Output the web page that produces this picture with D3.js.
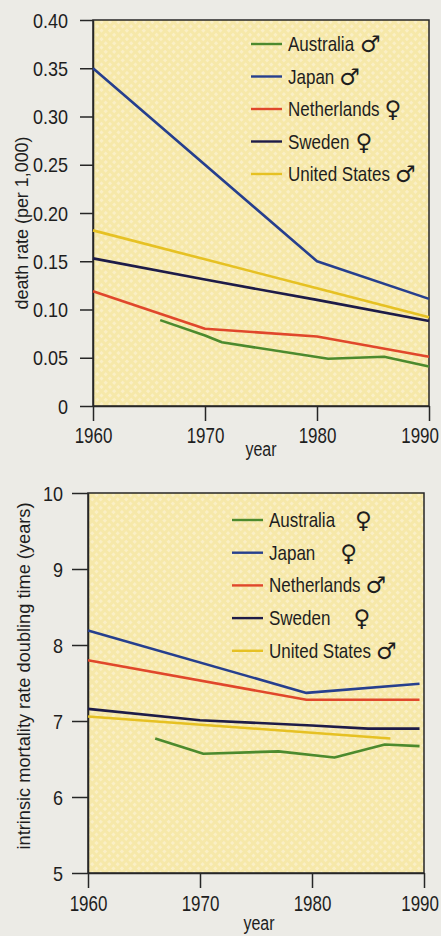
<!DOCTYPE html>
<html>
<head>
<meta charset="utf-8">
<style>
  body { margin: 0; background: #ecebe6; }
  svg text { font-family: "Liberation Sans", Arial, sans-serif; fill: #1e1e1e; }
  .sym { font-family: "DejaVu Sans", sans-serif; }
</style>
</head>
<body>
<script src="https://cdn.jsdelivr.net/npm/d3@7"></script>
<div id="container1"></div>
<script>

// ---- data ----
const countries = ["Australia", "Japan", "Netherlands", "Sweden", "United States"];
const colors = ["#4c8a2e", "#263f8e", "#e0472b", "#1d1b48", "#e6c123"];

// top panel: death rate (per 1,000)
const deathAustralia = [[1966, 0.089], [1970, 0.073], [1971.5, 0.066], [1981, 0.049], [1986, 0.051], [1990, 0.041]];
const deathJapan = [[1960, 0.350], [1980, 0.150], [1990, 0.111]];
const deathNetherlands = [[1960, 0.119], [1970, 0.080], [1980, 0.072], [1990, 0.051]];
const deathSweden = [[1960, 0.153], [1970, 0.131], [1980, 0.110], [1990, 0.088]];
const deathUS = [[1960, 0.182], [1970, 0.152], [1980, 0.122], [1990, 0.092]];
const deathSex = ["♂", "♂", "♀", "♀", "♂"];
const deathTicks = [0, 0.05, 0.10, 0.15, 0.20, 0.25, 0.30, 0.35, 0.40];

// bottom panel: intrinsic mortality rate doubling time (years)
const doubAustralia = [[1966, 6.77], [1970.3, 6.57], [1977, 6.60], [1982, 6.52], [1986.5, 6.69], [1989.6, 6.67]];
const doubJapan = [[1960, 8.19], [1979.5, 7.37], [1989.6, 7.49]];
const doubNetherlands = [[1960, 7.80], [1979.5, 7.28], [1989.6, 7.28]];
const doubSweden = [[1960, 7.16], [1970, 7.01], [1980, 6.94], [1985, 6.90], [1989.6, 6.90]];
const doubUS = [[1960, 7.06], [1987, 6.77]];
const doubSex = ["♀", "♀", "♂", "♀", "♂"];
const doubTicks = [5, 6, 7, 8, 9, 10];

const yearTicks = [1960, 1970, 1980, 1990];

const svg = d3.select("#container1")
  .append("svg")
    .attr("width", 441)
    .attr("height", 936);

// squeeze text horizontally (the original uses a condensed face)
function condense(sel, k) {
  sel.each(function() {
    const t = d3.select(this);
    const x0 = +t.attr("x") || 0;
    t.attr("x", x0 / k).attr("transform", `scale(${k},1)`);
  });
}

// halftone-ish fill
const defs = svg.append("defs");
const pat = defs.append("pattern")
    .attr("id", "dots")
    .attr("width", 6).attr("height", 6)
    .attr("patternUnits", "userSpaceOnUse")
    .attr("patternTransform", "rotate(45)");
pat.append("rect").attr("width", 6).attr("height", 6).attr("fill", "#f6e8a9");
pat.append("rect").attr("width", 3).attr("height", 3).attr("fill", "#faefc6");

function panel(opt) {
  const g = svg.append("g").attr("transform", `translate(${opt.left},${opt.top})`);
  const w = opt.width, h = opt.height;

  const x = d3.scaleLinear().domain([1960, 1990]).range([0, w]);
  const y = d3.scaleLinear().domain(opt.domain).range([h, 0]);

  g.append("rect")
      .attr("width", w).attr("height", h)
      .attr("fill", "url(#dots)")
      .attr("stroke", "#262626")
      .attr("stroke-width", 1.5);

  const xa = g.append("g")
      .attr("transform", `translate(0,${h})`)
      .call(d3.axisBottom(x).tickValues(yearTicks).tickFormat(d3.format("d"))
        .tickSize(15).tickPadding(opt.xPad).tickSizeOuter(0));
  xa.selectAll("text").style("font-size", "22px").call(condense, 0.77);
  // keep the last year label inside the page
  xa.selectAll("text").each(function() {
    const b = this.getBoundingClientRect();
    if (b.right > 439) d3.select(this).attr("dx", (439 - b.right) / 0.77);
  });

  const ya = g.append("g")
      .call(d3.axisLeft(y).tickValues(opt.ticks).tickFormat(opt.fmt)
        .tickSize(opt.yTick).tickPadding(opt.yPad).tickSizeOuter(0));
  ya.selectAll("text").style("font-size", "20px").attr("dy", "0.36em").call(condense, 0.9);

  g.selectAll(".domain").attr("stroke", "#262626").attr("stroke-width", 1.5);
  g.selectAll(".tick line").attr("stroke", "#262626").attr("stroke-width", 1.5);

  const line = d3.line().x(d => x(d[0])).y(d => y(d[1]));
  g.selectAll(".series")
    .data(opt.series)
    .join("path")
      .attr("class", "series")
      .attr("d", line)
      .attr("fill", "none")
      .attr("stroke", (d, i) => colors[i])
      .attr("stroke-width", 2.6)
      .attr("stroke-linejoin", "round");

  // x title
  g.append("g")
      .attr("transform", `translate(${w / 2 + opt.xTitleShift},${h + opt.xTitleY})`)
    .append("text")
      .attr("text-anchor", "middle")
      .style("font-size", "20px")
      .text("year")
      .call(condense, 0.8);

  // y title
  g.append("text")
      .attr("transform", `translate(${opt.yTitleX},${opt.yTitleMid}) rotate(-90)`)
      .attr("text-anchor", "middle")
      .attr("textLength", opt.yTitleLen)
      .attr("lengthAdjust", "spacingAndGlyphs")
      .style("font-size", "19px")
      .text(opt.yTitle);

  // legend
  const leg = g.selectAll(".leg")
    .data(countries)
    .join("g")
      .attr("class", "leg")
      .attr("transform", (d, i) => `translate(${opt.legX},${opt.legY + i * opt.legStep})`);
  leg.append("line")
      .attr("x1", 0).attr("x2", 31)
      .attr("stroke", (d, i) => colors[i])
      .attr("stroke-width", 2.4);
  leg.append("g")
      .attr("transform", "translate(37,7)")
    .append("text")
      .attr("class", "lab")
      .style("font-size", "20px")
      .text(d => d)
      .call(condense, 0.85);
  leg.each(function(d, i) {
    const el = d3.select(this);
    const tw = el.select(".lab").node().getComputedTextLength() * 0.85;
    el.append("text")
        .attr("class", "sym")
        .attr("x", 37 + tw + opt.symGap[i])
        .attr("y", 8)
        .style("font-size", "23px")
        .text(opt.sex[i]);
  });
}

panel({
  left: 93, top: 20, width: 336, height: 386,
  domain: [0, 0.40], ticks: deathTicks,
  fmt: d => d === 0 ? "0" : d.toFixed(2),
  yTick: 13, yPad: 12, xPad: 6,
  series: [deathAustralia, deathJapan, deathNetherlands, deathSweden, deathUS],
  sex: deathSex, symGap: [6, 5, 5, 6, 5],
  xTitleShift: 0, xTitleY: 50,
  yTitle: "death rate (per 1,000)", yTitleX: -65, yTitleMid: 203, yTitleLen: 173,
  legX: 158, legY: 24, legStep: 32.5
});

panel({
  left: 88, top: 493, width: 336, height: 380,
  domain: [5, 10], ticks: doubTicks,
  fmt: d3.format("d"),
  yTick: 16, yPad: 9, xPad: 7,
  series: [doubAustralia, doubJapan, doubNetherlands, doubSweden, doubUS],
  sex: doubSex, symGap: [20, 25, 5, 23, 5],
  xTitleShift: 3, xTitleY: 57,
  yTitle: "intrinsic  mortality rate doubling time (years)", yTitleX: -58, yTitleMid: 183, yTitleLen: 347,
  legX: 144, legY: 27, legStep: 32.7
});

</script>
</body>
</html>
